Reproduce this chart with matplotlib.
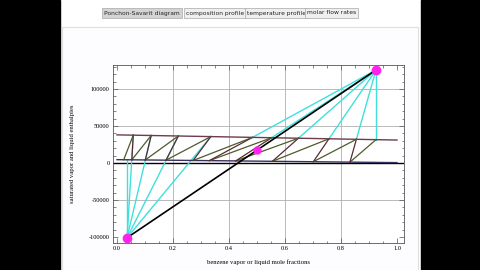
import numpy as np
import matplotlib.pyplot as plt
from matplotlib.patches import Rectangle
from matplotlib.ticker import MultipleLocator

# saturated vapor / liquid enthalpy lines (end points)
vap_x = [0.0, 1.0]
vap_h = [38000, 31000]
liq_x = [0.0, 1.0]
liq_h = [4500, 500]

# difference points and feed
delta_d = (0.925, 125700)
delta_b = (0.036, -101000)
feed = (0.50, 17300)

# stage compositions, rectifying then stripping section
rect_y = [0.925, 0.855, 0.757, 0.648, 0.552, 0.484]
rect_x = [0.832, 0.701, 0.555, 0.424, 0.330, 0.272]
strip_y = [0.335, 0.219, 0.122, 0.058]
strip_x = [0.175, 0.101, 0.053, 0.024]

tabs = ["Ponchon-Savarit diagram", "composition profile", "temperature profile", "molar flow rates"]
x_ticks = [0.0, 0.2, 0.4, 0.6, 0.8, 1.0]
y_ticks = [-100000, -50000, 0, 50000, 100000]

serif = ['Liberation Serif', 'DejaVu Serif']


def hv(x):
    return np.interp(x, vap_x, vap_h)


def hl(x):
    return np.interp(x, liq_x, liq_h)


fig = plt.figure(figsize=(4.8, 2.7), dpi=100)
fig.patch.set_facecolor('white')

# black side bands of the screen capture and the panel frame
fig.patches.append(Rectangle((0, 0), 60 / 480, 1, transform=fig.transFigure, color='black', zorder=-2))
fig.patches.append(Rectangle((421 / 480, 0), 59 / 480, 1, transform=fig.transFigure, color='black', zorder=-2))
fig.patches.append(Rectangle((62 / 480, -0.01), 356 / 480, 1 - 24 / 270, transform=fig.transFigure,
                             facecolor='#fdfcfe', edgecolor='#e0e0e0', lw=0.8, zorder=-1))

# tab buttons
tab_x = [104, 186, 247, 307]
for i, t in enumerate(tabs):
    fc = '#d4d4d4' if i == 0 else '#efefef'
    fig.text(tab_x[i] / 480, 1 - 13 / 270, t, fontsize=4.3, va='center', ha='left', color='#222222',
             bbox=dict(boxstyle='square,pad=0.35', fc=fc, ec='#a8a8a8', lw=0.5))

ax = fig.add_axes([113 / 480, 1 - 243 / 270, 291 / 480, 178 / 270])
ax.set_zorder(2)
ax.set_facecolor('white')

# grid and zero line
for gx in [0.2, 0.4, 0.6, 0.8]:
    ax.axvline(gx, color='#b0b0b0', lw=0.6, zorder=1)
for gy in [-50000, 50000, 100000]:
    ax.axhline(gy, color='#b0b0b0', lw=0.6, zorder=1)
ax.axhline(0, color='black', lw=1.0, zorder=2)

# saturation lines
ax.plot(vap_x, vap_h, color='#6e3a4c', lw=1.0, zorder=3)
ax.plot(liq_x, liq_h, color='#3a2f5e', lw=1.0, zorder=3)

# cyan construction lines from the difference points
for y in rect_y:
    ax.plot([delta_d[0], y], [delta_d[1], hv(y)], color='#3fe0dc', lw=1.0, zorder=2)
for y in strip_y:
    ax.plot([delta_b[0], y], [delta_b[1], hv(y)], color='#3fe0dc', lw=1.0, zorder=2)
ax.plot([delta_b[0], delta_b[0]], [delta_b[1], hl(delta_b[0])], color='#3fe0dc', lw=1.0, zorder=2)

# stage steps: tie lines (vapor -> liquid) and operating segments (liquid -> next vapor)
all_y = rect_y + strip_y
all_x = rect_x + strip_x
for i in range(len(all_y)):
    ax.plot([all_y[i], all_x[i]], [hv(all_y[i]), hl(all_x[i])], color='#4d5a2c', lw=0.9, zorder=4)
    if i + 1 < len(all_y):
        ax.plot([all_x[i], all_y[i + 1]], [hl(all_x[i]), hv(all_y[i + 1])], color='#5a2a34', lw=0.9, zorder=4)

# overall balance line through the feed
ax.plot([delta_b[0], delta_d[0]], [delta_b[1], delta_d[1]], color='black', lw=1.2, zorder=5)
ax.plot(*delta_d, 'o', color='#ff22ee', ms=6, zorder=6)
ax.plot(*delta_b, 'o', color='#ff22ee', ms=6, zorder=6)
ax.plot(*feed, 'o', color='#ff22ee', ms=5, zorder=6)

ax.set_xlim(-0.0143, 1.025)
ax.set_ylim(-108100, 132400)
ax.set_xticks(x_ticks)
ax.set_xticklabels([f"{v:.1f}" for v in x_ticks], family=serif, fontsize=4.6)
ax.set_yticks(y_ticks)
ax.set_yticklabels([str(v) for v in y_ticks], family=serif, fontsize=4.6)
ax.xaxis.set_minor_locator(MultipleLocator(0.05))
ax.yaxis.set_minor_locator(MultipleLocator(10000))
ax.tick_params(which='both', direction='in', top=True, right=True, width=0.5, color='#555555', pad=2.5)
ax.tick_params(which='major', length=3.5)
ax.tick_params(which='minor', length=1.8)
for s in ax.spines.values():
    s.set_linewidth(0.6)
    s.set_color('#555555')

ax.set_xlabel('benzene vapor or liquid mole fractions', family=serif, fontsize=4.8, labelpad=6)
ax.set_ylabel('saturated vapor and liquid enthalpies', family=serif, fontsize=4.8, labelpad=10)

fig.savefig('out.png', dpi=100)
